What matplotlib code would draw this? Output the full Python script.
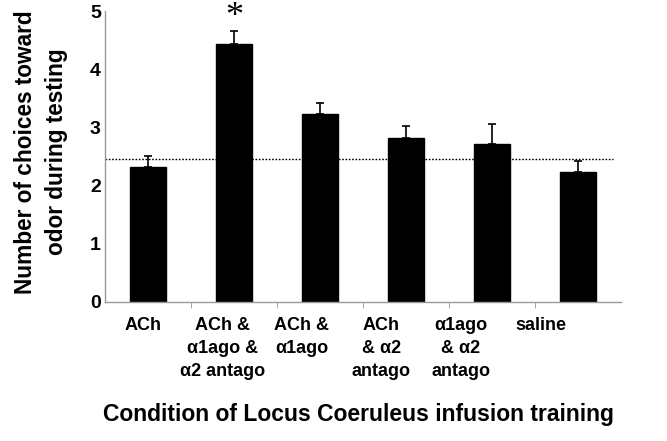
import numpy as np
import matplotlib
matplotlib.use("Agg")
import matplotlib.pyplot as plt

# Data
labels = ["ACh", "ACh &\nα1ago &\nα2 antago", "ACh &\nα1ago",
          "ACh\n& α2\nantago", "α1ago\n& α2\nantago", "saline"]
means = [2.32, 4.43, 3.23, 2.82, 2.72, 2.23]
errors = [0.19, 0.23, 0.19, 0.20, 0.33, 0.19]
chance = 2.46

plt.rcParams["font.family"] = ["Liberation Sans", "DejaVu Sans"]
plt.rcParams["font.weight"] = "bold"

fig = plt.figure(figsize=(6.67, 4.41), dpi=100)
ax = fig.add_axes([105 / 667, 1 - 302 / 441, 516 / 667, 291 / 441])

x = np.arange(len(means))
ax.bar(x, means, width=0.41, color="black", edgecolor="black", zorder=2)
ax.errorbar(x, means, yerr=[np.zeros(len(errors)), errors], fmt="none",
            ecolor="black", elinewidth=1.2, capsize=3, capthick=1.2, zorder=3)
ax.axhline(chance, xmin=0, xmax=(613 - 105) / 516, color="black",
           linestyle=(0, (1.2, 1.2)), linewidth=1.0, zorder=1)

# significance marker
ax.text(x[1], 4.88, "*", ha="center", va="center",
        fontsize=26, fontweight="normal", family="Liberation Serif")

ax.set_xlim(-0.5, len(means) - 0.5)
ax.set_ylim(0, 5)
ax.set_yticks([0, 1, 2, 3, 4, 5])
# category labels sit a bit left of their bars in the original
ax.set_xticks(x * 0.925 - 0.06)
ax.set_xticklabels(labels, fontsize=13, fontweight="bold", linespacing=1.45)
ax.set_xticks(np.arange(0.5, len(means) - 0.5, 1), minor=True)
ax.tick_params(axis="x", which="major", length=0, pad=11)
ax.tick_params(axis="x", which="minor", length=4, color="#999999")
ax.tick_params(axis="y", length=0, pad=3, labelsize=14)
for lab in ax.get_yticklabels():
    lab.set_fontweight("bold")

for side in ["top", "right"]:
    ax.spines[side].set_visible(False)
for side in ["left", "bottom"]:
    ax.spines[side].set_color("#999999")
    ax.spines[side].set_linewidth(1.0)

fig.text(41 / 667, 1 - 152 / 441, "Number of choices toward\nodor during testing",
         rotation=90, ha="center", va="center", fontsize=16.3,
         fontweight="bold", linespacing=1.4, multialignment="center")
fig.text(358 / 667, 1 - 415 / 441, "Condition of Locus Coeruleus infusion training",
         ha="center", va="center", fontsize=16.5, fontweight="bold")

fig.savefig("out.png", dpi=100)
